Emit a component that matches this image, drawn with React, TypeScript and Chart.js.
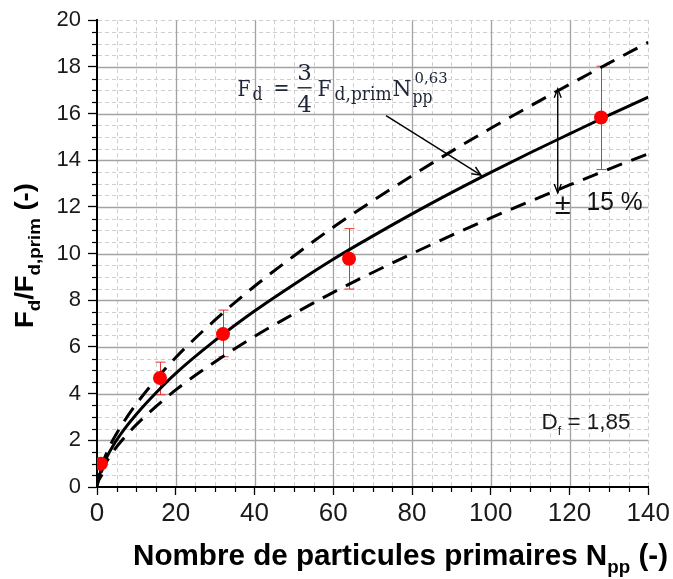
import React, { useEffect, useRef } from "react";
import { Chart, registerables } from "chart.js";

Chart.register(...registerables);

// ---- data ----
const pointN = [1, 16, 32, 64, 128];
const pointRatio = [1.0, 4.67, 6.55, 9.78, 15.83];
const errLow = [1.0, 3.95, 5.58, 8.48, 13.6];
const errHigh = [1.0, 5.35, 7.58, 11.07, 18.03];

const fitN = [0, 1, 2, 4, 7, 10, 15, 20, 30, 40, 50, 60, 70, 80, 90, 100, 110, 120, 130, 140];
const fitRatio = [0, 0.73, 1.12, 1.75, 2.49, 3.12, 4.04, 4.87, 6.28, 7.54, 8.68, 9.76, 10.75, 11.7, 12.61, 13.48, 14.32, 15.13, 15.93, 16.7];

const bandN = [1, 2, 4, 7, 10, 15, 20, 30, 40, 50, 60, 70, 80, 90, 100, 110, 120, 130, 140];
const upperRatio = [0.83, 1.28, 2.0, 2.84, 3.56, 4.61, 5.55, 7.16, 8.6, 9.9, 11.13, 12.26, 13.34, 14.38, 15.37, 16.32, 17.25, 18.16, 19.05];
const lowerRatio = [0.62, 0.96, 1.5, 2.13, 2.67, 3.45, 4.16, 5.37, 6.45, 7.42, 8.34, 9.19, 10.0, 10.78, 11.53, 12.24, 12.94, 13.62, 14.28];

const xMin = 0;
const xMax = 140;
const xStep = 20;
const xMinorStep = 5;
const yMin = 0;
const yMax = 20;
const yStep = 2;
const yMinorStep = 0.5;

const SANS = '"Liberation Sans", Arial, sans-serif';
const SERIF = '"DejaVu Serif", "Liberation Serif", serif';

type Part = { t: string; font: string; dy?: number };

function partsWidth(ctx: CanvasRenderingContext2D, parts: Part[]) {
  let w = 0;
  for (const p of parts) {
    ctx.font = p.font;
    w += ctx.measureText(p.t).width;
  }
  return w;
}

function drawParts(
  ctx: CanvasRenderingContext2D,
  parts: Part[],
  x: number,
  y: number,
  color: string,
  targetWidth?: number,
  align: "left" | "center" = "left"
) {
  const total = partsWidth(ctx, parts);
  const sx = targetWidth ? targetWidth / total : 1;
  ctx.save();
  ctx.translate(x, y);
  ctx.scale(sx, 1);
  ctx.fillStyle = color;
  ctx.textBaseline = "alphabetic";
  ctx.textAlign = "left";
  let cx = align === "center" ? -total / 2 : 0;
  for (const p of parts) {
    ctx.font = p.font;
    ctx.fillText(p.t, cx, p.dy || 0);
    cx += ctx.measureText(p.t).width;
  }
  ctx.restore();
}

function openHead(ctx: CanvasRenderingContext2D, x1: number, y1: number, x2: number, y2: number, len: number, half: number) {
  const ang = Math.atan2(y2 - y1, x2 - x1);
  const a = Math.atan2(half, len);
  const l = Math.hypot(len, half);
  ctx.beginPath();
  ctx.moveTo(x2 - l * Math.cos(ang - a), y2 - l * Math.sin(ang - a));
  ctx.lineTo(x2, y2);
  ctx.lineTo(x2 - l * Math.cos(ang + a), y2 - l * Math.sin(ang + a));
  ctx.stroke();
}

export default function App() {
  const ref = useRef<HTMLCanvasElement | null>(null);

  useEffect(() => {
    const canvas = ref.current;
    if (!canvas) return;

    const gridPlugin = {
      id: "customGrid",
      beforeDatasetsDraw(chart: any) {
        const { ctx, chartArea: a, scales } = chart;
        const xs = scales.x;
        const ys = scales.y;
        ctx.save();
        // minor dashed grid
        ctx.strokeStyle = "#cfcfcf";
        ctx.lineWidth = 1;
        ctx.setLineDash([4, 3]);
        for (let v = xMin + xMinorStep; v <= xMax + 1e-9; v += xMinorStep) {
          if (v % xStep === 0 && v < xMax) continue;
          const X = Math.round(xs.getPixelForValue(v)) + 0.5;
          ctx.beginPath();
          ctx.moveTo(X, a.top);
          ctx.lineTo(X, a.bottom - 1);
          ctx.stroke();
        }
        for (let v = yMin + yMinorStep; v <= yMax + 1e-9; v += yMinorStep) {
          if (Math.abs(v / yStep - Math.round(v / yStep)) < 1e-9 && v < yMax) continue;
          const Y = Math.round(ys.getPixelForValue(v)) + 0.5;
          ctx.beginPath();
          ctx.moveTo(a.left + 1, Y);
          ctx.lineTo(a.right, Y);
          ctx.stroke();
        }
        // major solid grid
        ctx.setLineDash([]);
        ctx.strokeStyle = "#a3a3a3";
        ctx.lineWidth = 1.3;
        for (let v = xMin + xStep; v < xMax; v += xStep) {
          const X = Math.round(xs.getPixelForValue(v)) + 0.5;
          ctx.beginPath();
          ctx.moveTo(X, a.top);
          ctx.lineTo(X, a.bottom - 1);
          ctx.stroke();
        }
        for (let v = yMin + yStep; v < yMax; v += yStep) {
          const Y = Math.round(ys.getPixelForValue(v)) + 0.5;
          ctx.beginPath();
          ctx.moveTo(a.left + 1, Y);
          ctx.lineTo(a.right, Y);
          ctx.stroke();
        }
        // minor ticks
        ctx.strokeStyle = "#000";
        ctx.lineWidth = 1.2;
        for (let v = xMin + xMinorStep; v < xMax; v += xMinorStep) {
          if (v % xStep === 0) continue;
          const X = Math.round(xs.getPixelForValue(v)) + 0.5;
          ctx.beginPath();
          ctx.moveTo(X, a.bottom);
          ctx.lineTo(X, a.bottom + 5);
          ctx.stroke();
        }
        for (let v = yMin + yMinorStep; v < yMax; v += yMinorStep) {
          if (Math.abs(v / yStep - Math.round(v / yStep)) < 1e-9) continue;
          const Y = Math.round(ys.getPixelForValue(v)) + 0.5;
          ctx.beginPath();
          ctx.moveTo(a.left - 5, Y);
          ctx.lineTo(a.left, Y);
          ctx.stroke();
        }
        // error bars
        ctx.strokeStyle = "#e8302f";
        ctx.lineWidth = 1;
        for (let i = 0; i < pointN.length; i++) {
          if (errHigh[i] - errLow[i] <= 0) continue;
          const X = Math.round(xs.getPixelForValue(pointN[i])) + 0.5;
          const Y1 = ys.getPixelForValue(errLow[i]);
          const Y2 = ys.getPixelForValue(errHigh[i]);
          ctx.beginPath();
          ctx.moveTo(X, Y1);
          ctx.lineTo(X, Y2);
          ctx.moveTo(X - 5, Y1);
          ctx.lineTo(X + 5, Y1);
          ctx.moveTo(X - 5, Y2);
          ctx.lineTo(X + 5, Y2);
          ctx.stroke();
        }
        ctx.restore();
      },
      afterDraw(chart: any) {
        const { ctx, chartArea: a, scales } = chart;
        const xs = scales.x;
        const ys = scales.y;
        const P = (n: number, v: number) => [xs.getPixelForValue(n), ys.getPixelForValue(v)];
        ctx.save();

        // small arrowhead at the origin
        {
          const [ox, oy] = P(0, 0);
          ctx.fillStyle = "#000";
          ctx.beginPath();
          ctx.moveTo(ox, oy - 1);
          ctx.lineTo(ox + 0.5, oy - 14);
          ctx.lineTo(ox + 6.5, oy - 12);
          ctx.closePath();
          ctx.fill();
        }

        // formula
        {
          const [fx, fy] = P(35.7, 16.77);
          const col = "#1f2638";
          const main = `23px ${SERIF}`;
          const sub = `18px ${SERIF}`;
          const sup = `15px ${SERIF}`;
          const digit = `23px ${SERIF}`;
          drawParts(ctx, [{ t: "F", font: main }], fx, fy, col, 13);
          drawParts(ctx, [{ t: "d", font: sub }], fx + 15, fy + 4, col, 10);
          drawParts(ctx, [{ t: "=", font: main }], fx + 36, fy - 1, col, 16);
          ctx.fillStyle = col;
          ctx.font = digit;
          ctx.textAlign = "center";
          ctx.textBaseline = "alphabetic";
          ctx.fillText("3", fx + 67, fy - 16);
          ctx.fillText("4", fx + 67, fy + 16);
          ctx.fillRect(fx + 60, fy - 8.5, 14, 1.4);
          drawParts(ctx, [{ t: "F", font: main }], fx + 80, fy, col, 14);
          drawParts(ctx, [{ t: "d,prim", font: sub }], fx + 97, fy + 4, col, 57);
          drawParts(ctx, [{ t: "N", font: main }], fx + 155, fy, col, 19);
          drawParts(ctx, [{ t: "pp", font: sub }], fx + 175, fy + 7, col, 20);
          drawParts(ctx, [{ t: "0,63", font: sup }], fx + 177, fy - 13, col, 33);
        }

        ctx.strokeStyle = "#000";
        ctx.lineWidth = 1.4;
        // arrow from formula to curve
        {
          const [x1, y1] = P(73.4, 15.91);
          const [x2, y2] = P(97.5, 13.36);
          ctx.beginPath();
          ctx.moveTo(x1, y1);
          ctx.lineTo(x2, y2);
          ctx.stroke();
          openHead(ctx, x1, y1, x2, y2, 9, 4);
        }
        // double vertical arrow for +-15 %
        {
          const [x1, y1] = P(117.0, 17.06);
          const [x2, y2] = P(117.0, 12.6);
          ctx.beginPath();
          ctx.moveTo(x1, y1);
          ctx.lineTo(x2, y2);
          ctx.stroke();
          openHead(ctx, x2, y2, x1, y1, 9, 3.5);
          openHead(ctx, x1, y1, x2, y2, 9, 3.5);
        }
        // +- 15 %
        {
          const [tx, ty] = P(116.5, 11.74);
          drawParts(ctx, [{ t: "±", font: `30px ${SANS}` }], tx - 1, ty + 1, "#111", 16);
          const [ux, uy] = P(124.3, 11.87);
          drawParts(ctx, [{ t: "15 %", font: `25px ${SANS}` }], ux, uy, "#111", 56);
        }
        // D_f = 1,85
        {
          const [dx, dy] = P(112.9, 2.51);
          drawParts(
            ctx,
            [
              { t: "D", font: `22px ${SANS}` },
              { t: "f", font: `12px ${SANS}`, dy: 6 },
              { t: " = 1,85", font: `22px ${SANS}` },
            ],
            dx,
            dy + 1,
            "#1a1a1a",
            89
          );
        }

        // x axis title
        drawParts(
          ctx,
          [
            { t: "Nombre de particules primaires N", font: `bold 30px ${SANS}` },
            { t: "pp", font: `bold 19px ${SANS}`, dy: 8 },
            { t: " (-)", font: `bold 30px ${SANS}` },
          ],
          a.left + 36,
          a.bottom + 78,
          "#000",
          535
        );

        // y axis title (rotated)
        ctx.save();
        ctx.translate(33, (a.top + a.bottom) / 2 + 2);
        ctx.rotate(-Math.PI / 2);
        drawParts(
          ctx,
          [
            { t: "F", font: `bold 25px ${SANS}` },
            { t: "d", font: `bold 17px ${SANS}`, dy: 7 },
            { t: "/F", font: `bold 25px ${SANS}` },
            { t: "d,prim", font: `bold 17px ${SANS}`, dy: 7 },
            { t: " (-)", font: `bold 25px ${SANS}` },
          ],
          0,
          0,
          "#000",
          145,
          "center"
        );
        ctx.restore();

        ctx.restore();
      },
    };

    const chart = new Chart(canvas, {
      type: "scatter",
      data: {
        datasets: [
          {
            label: "mesures",
            data: pointN.map((n, i) => ({ x: n, y: pointRatio[i] })),
            backgroundColor: "#ff0000",
            borderColor: "#ff0000",
            pointRadius: 7,
            pointBorderWidth: 0,
            showLine: false,
          },
          {
            label: "fit",
            data: fitN.map((n, i) => ({ x: n, y: fitRatio[i] })),
            borderColor: "#000",
            borderWidth: 3,
            pointRadius: 0,
            showLine: true,
            cubicInterpolationMode: "monotone",
          },
          {
            label: "+15%",
            data: bandN.map((n, i) => ({ x: n, y: upperRatio[i] })),
            borderColor: "#000",
            borderWidth: 3,
            borderDash: [16, 10],
            pointRadius: 0,
            showLine: true,
            cubicInterpolationMode: "monotone",
          },
          {
            label: "-15%",
            data: bandN.map((n, i) => ({ x: n, y: lowerRatio[i] })),
            borderColor: "#000",
            borderWidth: 3,
            borderDash: [16, 10],
            pointRadius: 0,
            showLine: true,
            cubicInterpolationMode: "monotone",
          },
        ],
      },
      options: {
        animation: false,
        responsive: false,
        devicePixelRatio: 1,
        events: [],
        layout: { padding: { top: 17, right: 23, left: 0, bottom: 0 } },
        plugins: {
          legend: { display: false },
          tooltip: { enabled: false },
          title: { display: false },
        },
        scales: {
          x: {
            type: "linear",
            min: xMin,
            max: xMax,
            afterFit: (s: any) => {
              s.height = 92;
            },
            ticks: {
              stepSize: xStep,
              color: "#1a1a1a",
              font: { family: SANS, size: 26 },
              padding: 3,
              maxRotation: 0,
              autoSkip: false,
            },
            grid: {
              drawOnChartArea: false,
              drawTicks: true,
              tickLength: 8,
              tickColor: "#000",
              tickWidth: 1.3,
            },
            border: { display: true, color: "#000", width: 2 },
          },
          y: {
            type: "linear",
            min: yMin,
            max: yMax,
            afterFit: (s: any) => {
              s.width = 97;
            },
            ticks: {
              stepSize: yStep,
              color: "#1a1a1a",
              font: { family: SANS, size: 22 },
              padding: 7,
              autoSkip: false,
            },
            grid: {
              drawOnChartArea: false,
              drawTicks: true,
              tickLength: 9,
              tickColor: "#000",
              tickWidth: 1.3,
            },
            border: { display: true, color: "#000", width: 2 },
          },
        },
      },
      plugins: [gridPlugin],
    } as any);

    return () => {
      chart.destroy();
    };
  }, []);

  return (
    <div style={{ position: "absolute", left: 0, top: 0, width: 673, height: 579, background: "#fff" }}>
      <canvas ref={ref} width={673} height={579} style={{ display: "block", width: 673, height: 579 }} />
    </div>
  );
}
